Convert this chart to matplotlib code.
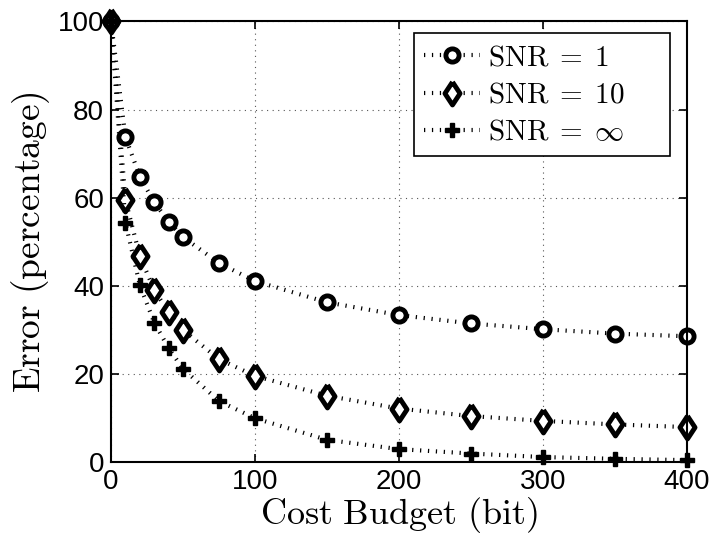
import numpy as np
import matplotlib
matplotlib.use("Agg")
import matplotlib.pyplot as plt

plt.rcParams['mathtext.fontset'] = 'cm'
plt.rcParams['font.family'] = ['Liberation Sans', 'DejaVu Sans']

# cost budget (bit) and error (%) for each SNR level
budget = [0, 10, 20, 30, 40, 50, 75, 100, 150, 200, 250, 300, 350, 400]
err_snr1 = [100, 73.8, 64.8, 59.0, 54.6, 51.1, 45.2, 41.1, 36.3, 33.4, 31.5, 30.2, 29.2, 28.6]
err_snr10 = [100, 59.5, 46.8, 39.1, 34.0, 30.0, 23.4, 19.6, 15.1, 12.2, 10.5, 9.4, 8.6, 8.0]
err_snrinf = [100, 54.4, 40.2, 31.7, 25.9, 21.2, 13.9, 10.0, 5.1, 3.0, 2.0, 1.2, 0.8, 0.5]

# wider diamond than matplotlib's 'd'
diamond = [(0, 1), (0.66, 0), (0, -1), (-0.66, 0), (0, 1)]

fig = plt.figure(figsize=(7.13, 5.37), dpi=100)
ax = fig.add_axes([0.1557, 0.139, 0.808, 0.821])

line = dict(color='black', linestyle=(0, (0.3, 1.6)), linewidth=3.0, clip_on=False)
ax.plot(budget, err_snr1, marker='o', markersize=9.5, markeredgewidth=3.5,
        markerfacecolor='white', markeredgecolor='black',
        label=r'$\mathrm{SNR}\;=\;1$', **line)
ax.plot(budget, err_snr10, marker=diamond, markersize=16.5, markeredgewidth=3.5,
        markerfacecolor='white', markeredgecolor='black',
        label=r'$\mathrm{SNR}\;=\;10$', **line)
ax.plot(budget, err_snrinf, marker='P', markersize=10, markeredgewidth=1,
        markerfacecolor='black', markeredgecolor='black',
        label=r'$\mathrm{SNR}\;=\;\infty$', **line)

ax.set_xlim(0, 400)
ax.set_ylim(0, 100)
ax.set_xticks([0, 100, 200, 300, 400])
ax.set_yticks([0, 20, 40, 60, 80, 100])
ax.tick_params(direction='in', top=True, right=True, labelsize=20, length=6, width=1.2, pad=5)
for s in ax.spines.values():
    s.set_linewidth(1.5)
ax.grid(True, linestyle=(0, (1, 4)), color='#555555', linewidth=0.8)

ax.set_xlabel(r'$\mathrm{Cost\ Budget\ (bit)}$', fontsize=26, labelpad=0)
ax.set_ylabel(r'$\mathrm{Error\ (percentage)}$', fontsize=27, labelpad=4)

leg = ax.legend(loc='upper left', bbox_to_anchor=(0.526, 0.0, 0.444, 0.973), mode='expand',
                fontsize=21, fancybox=False, framealpha=1,
                edgecolor='black', handlelength=1.9, borderpad=0.35, labelspacing=0.32,
                handletextpad=0.3, borderaxespad=0.0)
leg.get_frame().set_linewidth(1.2)

fig.savefig('out.png', dpi=100)
